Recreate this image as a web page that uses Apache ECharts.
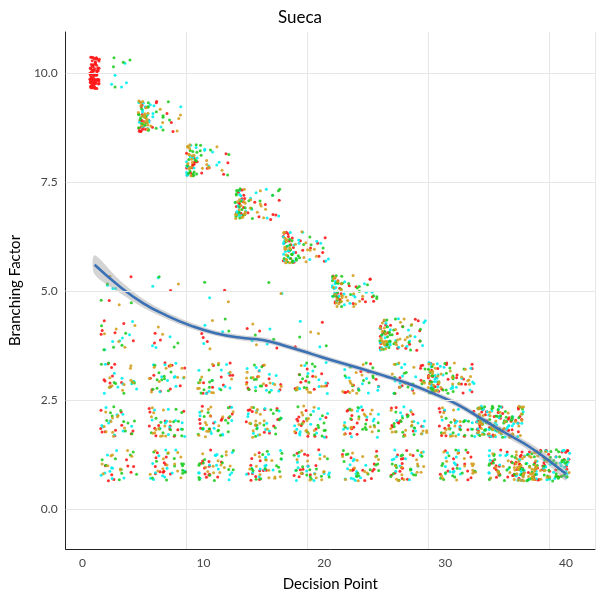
<!DOCTYPE html>
<html><head><meta charset="utf-8">
<script src="https://cdn.jsdelivr.net/npm/echarts@6/dist/echarts.min.js"></script>
<style>html,body{margin:0;padding:0;background:#fff}#c{width:600px;height:600px}</style>
</head><body><div id="c"></div>
<script>
const title = "Sueca";
const xTicks = [0, 10, 20, 30, 40];
const yTicks = [0, 2.5, 5, 7.5, 10];
const playerColors = ["#ff1a1a", "#00f0f0", "#22cc22", "#d4a020"];
const tricks = [1,2,3,4,5,6,7,8,9,10];
const leaderCounts = [90, 70, 60, 60, 60, 60, 60, 60, 55, 0];
const followTopCounts = [10, 25, 25, 30, 35, 35, 45, 50, 60, 0];
const lowCounts = { 1: [35,50,50,50,50,50,55,55,60,200], 2: [40,50,50,50,50,50,50,55,60,0], 3: [35,40,40,40,40,40,40,0,0,0], 4: [22,10,10,10,8,0,0,0,0,0], 5: [10,5,4,3,0,0,0,0,0,0] };
// hand-read jitter offsets
const DX = [-0.42,0.13,0.31,-0.08,0.47,-0.27,0.02,0.38,-0.46,0.21,-0.15,0.44,-0.33,0.09,0.27,-0.04,-0.39,0.35,0.17,-0.22,0.49,-0.11,0.05,-0.31,0.41,-0.48,0.24,-0.18,0.33,0.0,-0.36,0.15,0.45,-0.06,-0.25,0.29,-0.44,0.11,0.37,-0.13];
const DY = [0.12,-0.31,0.25,-0.05,0.36,-0.22,0.03,0.29,-0.37,0.17,-0.12,0.33,-0.27,0.08,-0.18,0.22,-0.01,0.35,-0.34,0.14,-0.09,0.27,-0.24,0.06,0.31,-0.15,0.19,-0.29,0.01,0.24,-0.2,0.1,-0.36,0.32,-0.07,0.16,-0.26];
const smoothX = [1,3,5,7,9,11,13,15,17,19,21,23,25,27,29,31,33,35,37,39,40];
const smoothY = [5.6,5.12,4.72,4.43,4.2,4.03,3.93,3.87,3.72,3.55,3.38,3.22,3.05,2.87,2.65,2.4,2.07,1.74,1.42,1.02,0.8];
const smoothSE = [0.22,0.15,0.1,0.08,0.07,0.06,0.06,0.06,0.06,0.06,0.06,0.06,0.06,0.06,0.06,0.07,0.07,0.08,0.09,0.12,0.15];

const pts = [[],[],[],[]];
let k = 0;
function frac(v) { return v - Math.floor(v); }
function addCluster(x0, x1, y, n, colorFn) {
  for (let i = 0; i < n; i++) {
    const ux = frac((DX[k % 40] + 0.5) + 0.41 * (DX[(k * 17 + 3) % 40] + 0.5) + 0.23 * (DY[(k * 5) % 37] + 0.38));
    const uy = frac((DY[(k * 7 + 1) % 37] + 0.38) / 0.76 + 0.37 * (DX[(k * 11 + 5) % 40] + 0.5) + 0.19 * (DY[k % 37] + 0.38));
    pts[colorFn(i)].push([x0 + (x1 - x0) * ux, y - 0.36 + 0.72 * uy]);
    k++;
  }
}
tricks.forEach((t, ti) => {
  const s = 4 * t - 3;
  const top = 11 - t;
  if (t === 1) {
    addCluster(s - 0.4, s + 0.4, top, leaderCounts[ti], () => 0);
    addCluster(s + 1.4, s + 3.2, top, followTopCounts[ti], i => 1 + (i % 2));
  } else if (t < 10) {
    addCluster(s - 0.4, s + 0.5, top, leaderCounts[ti], i => (i + t) % 4);
    addCluster(s + 0.6, s + 3.4, top, followTopCounts[ti], i => (i * 3 + t) % 4);
  }
  for (let y = 1; y <= 5; y++) {
    const n = lowCounts[y][ti];
    if (!n) continue;
    if (t === 10) addCluster(s - 1.4, s + 3.3, y, n, i => i % 4);
    else addCluster(s + 0.5, s + 3.5, y, n, i => (i + y) % 4);
  }
});

const chart = echarts.init(document.getElementById('c'));
const band = smoothX.map((x, i) => [x, smoothY[i] - smoothSE[i], smoothY[i] + smoothSE[i]]);
const font = "Lato";
chart.setOption({
  animation: false,
  title: { text: title, left: 'center', top: 4, textStyle: { fontFamily: font, fontSize: 17, fontWeight: 'normal', color: '#000' } },
  grid: { left: 62, right: 5, top: 32, bottom: 51 },
  xAxis: { type: 'value', min: -1.4, max: 42.4, interval: 10,
    name: 'Decision Point', nameLocation: 'middle', nameGap: 28, nameTextStyle: { fontFamily: font, fontSize: 15, color: '#000' },
    axisLine: { show: true, onZero: false, lineStyle: { color: '#222' } }, axisTick: { show: false },
    axisLabel: { fontFamily: font, fontSize: 12, color: '#444', customValues: xTicks },
    splitLine: { lineStyle: { color: '#e6e6e6' } } },
  yAxis: { type: 'value', min: -0.92, max: 10.94,
    name: 'Branching Factor', nameLocation: 'middle', nameGap: 42, nameTextStyle: { fontFamily: font, fontSize: 15, color: '#000' },
    axisLine: { show: true, onZero: false, lineStyle: { color: '#222' } }, axisTick: { show: false },
    axisLabel: { fontFamily: font, fontSize: 12, color: '#444', customValues: yTicks, formatter: v => v.toFixed(1) },
    splitLine: { show: false } },
  series: [
    { type: 'line', data: yTicks.map(v=>[0,v]), symbol:'none', lineStyle:{width:0}, silent:true,
      markLine: { silent:true, symbol:'none', label:{show:false}, lineStyle:{color:'#e6e6e6', type:'solid', width:1}, data: yTicks.map(v=>({yAxis:v})) } },
    ...pts.map((d, i) => ({ type: 'scatter', data: d, symbolSize: 3, itemStyle: { color: playerColors[i], opacity: 0.9 }, z: 2 })),
    { type: 'custom', z: 3, data: band, renderItem: (params, api) => {
        if (params.dataIndex !== 0) return null;
        const up = band.map(b => api.coord([b[0], b[2]]));
        const lo = band.slice().reverse().map(b => api.coord([b[0], b[1]]));
        return { type: 'polygon', shape: { points: up.concat(lo), smooth: 0.3 }, style: { fill: 'rgba(160,160,160,0.45)' } };
      } },
    { type: 'line', z: 4, data: smoothX.map((x, i) => [x, smoothY[i]]), smooth: true, symbol: 'none', lineStyle: { color: '#3a70b5', width: 2.5 } }
  ]
});
</script></body></html>
